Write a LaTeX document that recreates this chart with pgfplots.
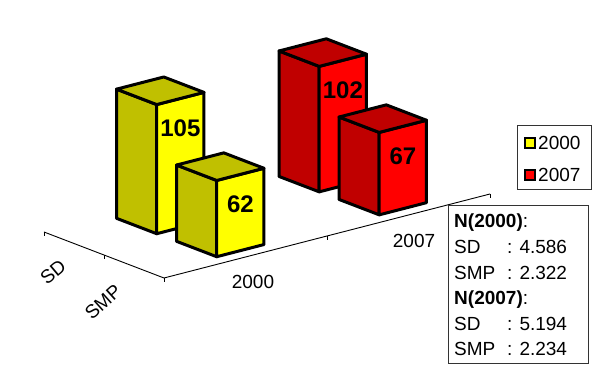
\documentclass[border=0pt]{standalone}
\usepackage{fontspec}
\setmainfont{Liberation Sans}
\usepackage{pgfplots}
\pgfplotsset{compat=1.18}
\usetikzlibrary{calc}
\definecolor{yl}{RGB}{255,255,0}
\definecolor{yd}{RGB}{192,192,0}
\definecolor{rl}{RGB}{255,0,0}
\definecolor{rd}{RGB}{192,0,0}
\newcommand\lab{\fontsize{19pt}{22pt}\selectfont}
% #1 x0, #2 x1, #3 y0, #4 y1, #5 value, #6 light, #7 dark
\newcommand\barbox[7]{%
  \addplot3[fill=#7, draw=black, line width=3pt, line join=round, mark=none]
    coordinates {(#1,#3,0) (#1,#4,0) (#1,#4,#5) (#1,#3,#5)} -- cycle;
  \addplot3[fill=#6, draw=black, line width=3pt, line join=round, mark=none]
    coordinates {(#1,#3,0) (#2,#3,0) (#2,#3,#5) (#1,#3,#5)} -- cycle;
  \addplot3[fill=#7, draw=black, line width=3pt, line join=round, mark=none]
    coordinates {(#1,#3,#5) (#2,#3,#5) (#2,#4,#5) (#1,#4,#5)} -- cycle;
}
\begin{document}
\begin{tikzpicture}
\begin{axis}[
  x={(163pt,42pt)}, y={(-60pt,23pt)}, z={(0pt,1.23pt)},
  xmin=0, xmax=2, ymin=0, ymax=2, zmin=0, zmax=110,
  hide axis, clip=false,
  /pgf/number format/assume math mode=true,
]
\coordinate (O) at (axis cs:0,0,0);
% axis lines
\draw[line width=0.9pt] (axis cs:0,2,0) -- (axis cs:0,0,0) -- (axis cs:2,0,0);
\draw[line width=0.9pt] (axis cs:0,0,0) -- ++(0pt,-4pt);
\draw[line width=0.9pt] (axis cs:1,0,0) -- ++(0pt,-4pt);
\draw[line width=0.9pt] (axis cs:2,0,0) -- ++(0pt,-4pt);
\draw[line width=0.9pt] (axis cs:0,1,0) -- ++(0pt,-4pt);
\draw[line width=0.9pt] (axis cs:0,2,0) -- ++(0pt,-4pt);
% bars: SD 2007, SD 2000, SMP 2007, SMP 2000 (back to front)
\barbox{1.394}{1.684}{1.20}{1.87}{102}{rl}{rd}
\barbox{0.397}{0.687}{1.20}{1.87}{105}{yl}{yd}
\barbox{1.394}{1.684}{0.20}{0.87}{67}{rl}{rd}
\barbox{0.397}{0.687}{0.20}{0.87}{62}{yl}{yd}
% value labels
\addplot3[draw=none, mark=none, point meta=z, nodes near coords,
  every node near coord/.append style={anchor=center, yshift=-30pt,
    font=\fontsize{24pt}{28pt}\selectfont\bfseries, text=black, inner sep=0pt}]
  coordinates {(0.542,1.20,105) (1.539,1.20,102) (0.542,0.20,62) (1.539,0.20,67)};
\end{axis}
% category labels
\node[rotate=40, inner sep=0pt, font=\lab] at ($(O)+(-111pt,6pt)$) {SD};
\node[rotate=42, inner sep=0pt, font=\lab] at ($(O)+(-61pt,-24pt)$) {SMP};
\node[inner sep=0pt, font=\lab] at ($(O)+(89pt,-3.5pt)$) {2000};
\node[inner sep=0pt, font=\lab] at ($(O)+(250pt,37.5pt)$) {2007};
% legend
\draw[black!80, line width=0.9pt] ($(O)+(353pt,153pt)$) rectangle ($(O)+(427pt,89pt)$);
\draw[black, line width=1.8pt, fill=yl] ($(O)+(361pt,130pt)$) rectangle ++(10pt,10pt);
\draw[black, line width=1.8pt, fill=rl] ($(O)+(361pt,98pt)$) rectangle ++(10pt,10pt);
\node[anchor=west, inner sep=0pt, font=\lab] at ($(O)+(374pt,135pt)$) {2000};
\node[anchor=west, inner sep=0pt, font=\lab] at ($(O)+(374pt,103pt)$) {2007};
% stats box
\draw[black!80, line width=0.9pt] ($(O)+(284pt,73pt)$) rectangle ($(O)+(424pt,-85pt)$);
\begin{scope}[every node/.style={anchor=base west, inner sep=0pt, font=\lab}]
\node at ($(O)+(290pt,50pt)$) {\textbf{N(2000)}:};
\node at ($(O)+(290pt,24.4pt)$) {SD};
\node at ($(O)+(343pt,24.4pt)$) {: 4.586};
\node at ($(O)+(290pt,-1.2pt)$) {SMP};
\node at ($(O)+(343pt,-1.2pt)$) {: 2.322};
\node at ($(O)+(290pt,-26.8pt)$) {\textbf{N(2007)}:};
\node at ($(O)+(290pt,-52.4pt)$) {SD};
\node at ($(O)+(343pt,-52.4pt)$) {: 5.194};
\node at ($(O)+(290pt,-78pt)$) {SMP};
\node at ($(O)+(343pt,-78pt)$) {: 2.234};
\end{scope}
\pgfresetboundingbox
\useasboundingbox ($(O)+(-164pt,-93pt)$) rectangle ($(O)+(435pt,278pt)$);
\end{tikzpicture}
\end{document}
